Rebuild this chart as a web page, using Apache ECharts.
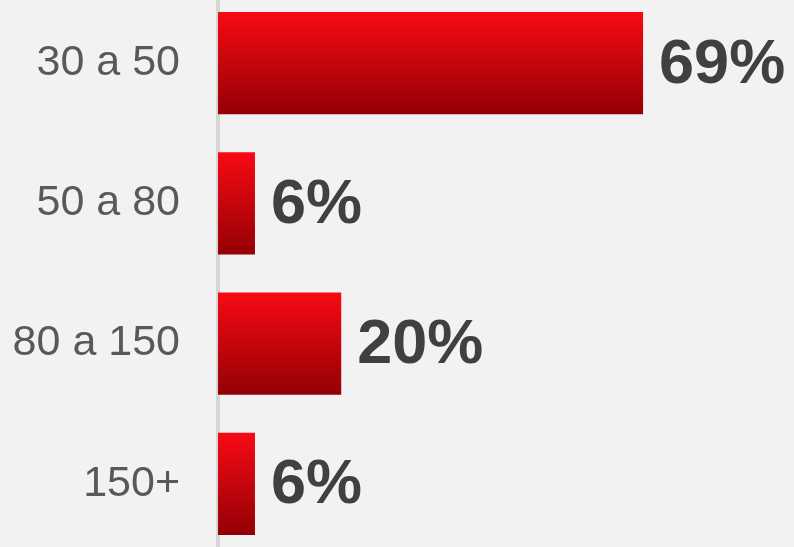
<!DOCTYPE html>
<html>
<head>
<meta charset="utf-8">
<script src="https://cdn.jsdelivr.net/npm/echarts@6/dist/echarts.min.js"></script>
<style>
html,body{margin:0;padding:0;background:#f2f2f2;overflow:hidden;width:794px;height:547px;}
#c{position:absolute;left:0;top:-7px;width:794px;height:561px;}
</style>
</head>
<body>
<div id="c"></div>
<script>
const categories = ["30 a 50", "50 a 80", "80 a 150", "150+"];
const values = [69, 6, 20, 6];

const chart = echarts.init(document.getElementById('c'), null, {renderer: 'canvas'});
chart.setOption({
  backgroundColor: '#f2f2f2',
  animation: false,
  grid: {left: 218, top: 0, right: 0, bottom: 0, containLabel: false},
  xAxis: {
    type: 'value', min: 0, max: 93.5, show: false
  },
  yAxis: {
    type: 'category', data: categories, inverse: true,
    axisLine: {show: true, lineStyle: {color: '#d6d6d6', width: 4}},
    axisTick: {show: false},
    axisLabel: {color: '#595959', fontSize: 43, fontFamily: 'Liberation Sans, Arial, sans-serif', margin: 38}
  },
  series: [{
    type: 'bar',
    data: values,
    barCategoryGap: '27%',
    itemStyle: {
      color: new echarts.graphic.LinearGradient(0, 0, 0, 1, [
        {offset: 0, color: '#f80a14'},
        {offset: 1, color: '#930005'}
      ])
    },
    label: {
      show: true, position: 'right', distance: 16, offset: [0, 2],
      formatter: '{c}%',
      color: '#404040', fontSize: 63, fontWeight: 'bold',
      fontFamily: 'Liberation Sans, Arial, sans-serif'
    }
  }]
});
</script>
</body>
</html>
